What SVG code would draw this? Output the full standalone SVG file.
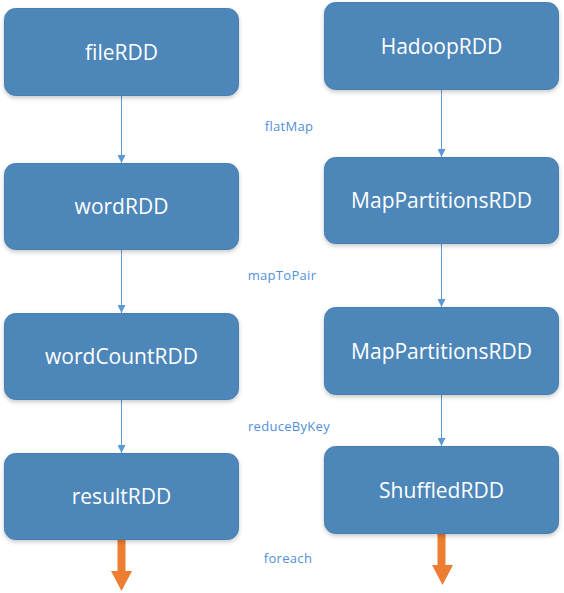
<svg xmlns="http://www.w3.org/2000/svg" width="564" height="593" viewBox="0 0 564 593">
<defs>
<style>
.box{fill:#4E86B9;stroke:#4A7FB0;stroke-width:1;filter:url(#sh)}
.nt{font-family:"Open Sans","Liberation Sans",sans-serif;font-size:21px;fill:#FFFFFF;text-anchor:middle}
.lb{font-family:"Open Sans","Liberation Sans",sans-serif;font-size:13px;fill:#4F8FDB;text-anchor:middle;letter-spacing:0.3px}
.cn{stroke:#5B9BD5;stroke-width:1;fill:none;marker-end:url(#ah)}
.or{stroke:#ED7D31;stroke-width:8;stroke-linecap:round;fill:none}
</style>
<filter id="sh" x="-10%" y="-10%" width="120%" height="130%">
<feDropShadow dx="0" dy="2" stdDeviation="2" flood-color="#000" flood-opacity="0.22"/>
</filter>
<marker id="ah" viewBox="0 0 10 10" refX="10" refY="5" markerWidth="8" markerHeight="8" markerUnits="userSpaceOnUse" orient="auto">
<path d="M0,0 L10,5 L0,10 z" fill="#5B9BD5"/>
</marker>
</defs>
<g id="connectors">
<line class="cn" x1="121.5" y1="96" x2="121.5" y2="163"/>
<line class="cn" x1="121.5" y1="249" x2="121.5" y2="313"/>
<line class="cn" x1="121.5" y1="400" x2="121.5" y2="453"/>
<line class="cn" x1="441.5" y1="89" x2="441.5" y2="157"/>
<line class="cn" x1="441.5" y1="243" x2="441.5" y2="307"/>
<line class="cn" x1="441.5" y1="394" x2="441.5" y2="446"/>
<line class="or" x1="121.5" y1="541" x2="121.5" y2="572"/>
<polygon points="111,571 132,571 121.5,591" fill="#ED7D31"/>
<line class="or" x1="441.5" y1="534" x2="441.5" y2="566"/>
<polygon points="432,565 453,565 442.5,585" fill="#ED7D31"/>
</g>
<g id="labels">
<text class="lb" x="289" y="131">flatMap</text>
<text class="lb" x="282" y="280">mapToPair</text>
<text class="lb" x="289" y="431">reduceByKey</text>
<text class="lb" x="288" y="563">foreach</text>
</g>
<g id="fileRDD"><rect class="box" x="4.5" y="8.5" width="234" height="87" rx="11"/><text class="nt" x="121.5" y="59.5">fileRDD</text></g>
<g id="wordRDD"><rect class="box" x="4.5" y="163.5" width="234" height="86" rx="11"/><text class="nt" x="121.5" y="213.5">wordRDD</text></g>
<g id="wordCountRDD"><rect class="box" x="4.5" y="313.5" width="234" height="86" rx="11"/><text class="nt" x="121.5" y="364">wordCountRDD</text></g>
<g id="resultRDD"><rect class="box" x="4.5" y="453.5" width="234" height="86" rx="11"/><text class="nt" x="121.5" y="503.5">resultRDD</text></g>
<g id="HadoopRDD"><rect class="box" x="324.5" y="2.5" width="234" height="87" rx="11"/><text class="nt" x="441.5" y="53.5">HadoopRDD</text></g>
<g id="MapPartitionsRDD1"><rect class="box" x="324.5" y="157.5" width="234" height="86" rx="11"/><text class="nt" x="441.5" y="208">MapPartitionsRDD</text></g>
<g id="MapPartitionsRDD2"><rect class="box" x="324.5" y="307.5" width="234" height="87" rx="11"/><text class="nt" x="441.5" y="358.5">MapPartitionsRDD</text></g>
<g id="ShuffledRDD"><rect class="box" x="324.5" y="446.5" width="234" height="87" rx="11"/><text class="nt" x="441.5" y="497.5">ShuffledRDD</text></g>
</svg>
